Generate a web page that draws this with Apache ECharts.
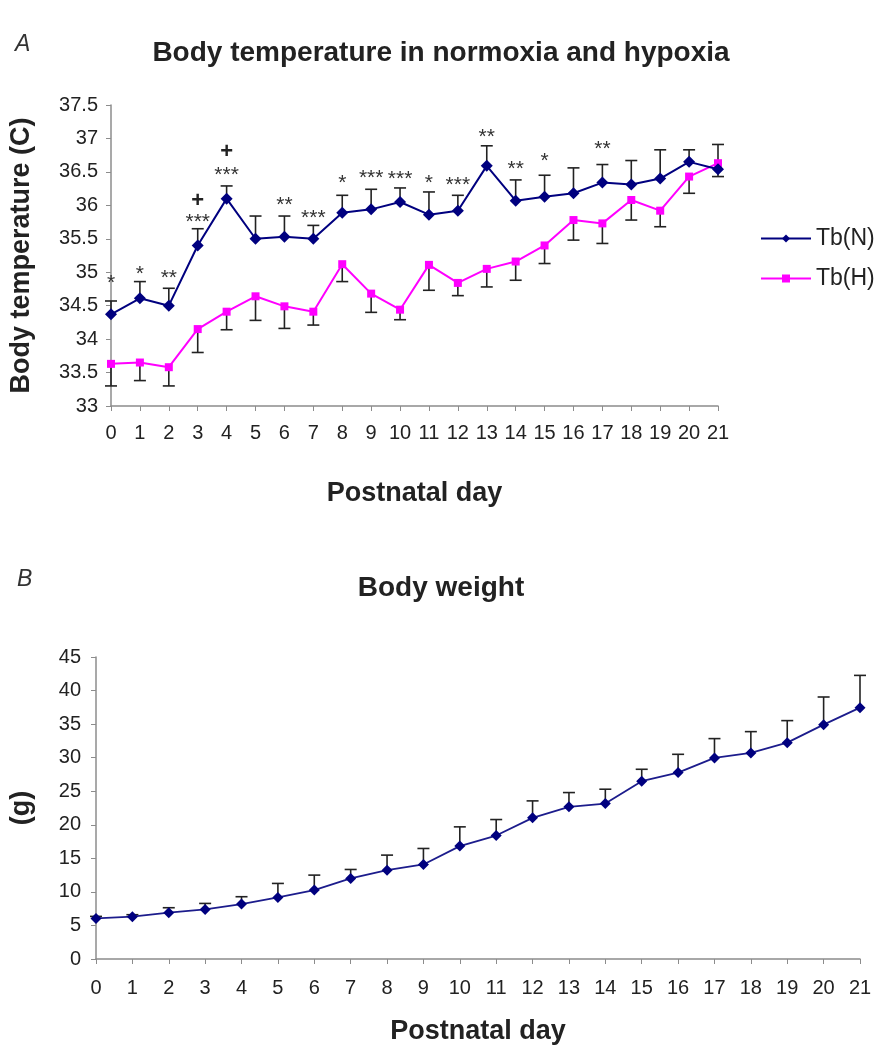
<!DOCTYPE html>
<html>
<head>
<meta charset="utf-8">
<script src="https://cdn.jsdelivr.net/npm/echarts@6/dist/echarts.min.js"></script>
<style>
  html, body { margin: 0; padding: 0; background: #fff; }
  #main { width: 882px; height: 1048px; }
</style>
</head>
<body>
<div id="main"></div>
<script>
// postnatal days 0..21
const days = ['0','1','2','3','4','5','6','7','8','9','10','11','12','13','14','15','16','17','18','19','20','21'];

// body temperature, normoxia (mean, error up)
const tbN = [34.37, 34.61, 34.50, 35.40, 36.10, 35.50, 35.53, 35.50, 35.89, 35.94, 36.05, 35.86, 35.92, 36.59, 36.07, 36.13, 36.18, 36.34, 36.31, 36.40, 36.65, 36.54];
const tbNErr = [0.20, 0.25, 0.26, 0.25, 0.19, 0.34, 0.31, 0.20, 0.26, 0.30, 0.21, 0.34, 0.23, 0.30, 0.31, 0.32, 0.38, 0.27, 0.36, 0.43, 0.18, 0.37];

// body temperature, hypoxia (mean, error down)
const tbH = [33.63, 33.65, 33.58, 34.15, 34.41, 34.64, 34.49, 34.41, 35.12, 34.68, 34.44, 35.11, 34.84, 35.05, 35.16, 35.40, 35.78, 35.73, 36.08, 35.92, 36.43, 36.63];
const tbHErr = [0.33, 0.27, 0.28, 0.35, 0.27, 0.36, 0.33, 0.20, 0.26, 0.28, 0.15, 0.38, 0.19, 0.27, 0.28, 0.27, 0.30, 0.30, 0.30, 0.24, 0.25, 0.20];

// significance marks and where they sit (temperature units)
const sigStars = ['*', '*', '**', '***', '***', '', '**', '***', '*', '***', '***', '*', '***', '**', '**', '*', '', '**', '', '', '', ''];
const sigY = [34.91, 35.04, 34.98, 35.82, 36.52, null, 36.08, 35.88, 36.40, 36.48, 36.46, 36.40, 36.38, 37.10, 36.62, 36.73, null, 36.91, null, null, null, null];
const plusDays = [3, 4];
const plusY = [36.06, 36.80];

// body weight (g)
const weight = [6.05, 6.3, 6.9, 7.39, 8.18, 9.18, 10.27, 12.0, 13.24, 14.09, 16.82, 18.4, 21.03, 22.67, 23.16, 26.49, 27.78, 29.96, 30.7, 32.24, 34.92, 37.45];
const weightErr = [0.3, 0.3, 0.74, 0.89, 1.1, 2.08, 2.23, 1.34, 2.24, 2.38, 2.87, 2.38, 2.53, 2.13, 2.14, 1.78, 2.72, 2.88, 3.18, 3.28, 4.12, 4.81];

const FONT = 'Liberation Sans, Arial, sans-serif';
const NAVY = '#00007f';
const MAGENTA = '#ff00ff';
const AXIS = '#8c8c8c';

// error bar renderer: data = [x, from, to]
function errBar(params, api) {
  const a = api.coord([api.value(0), api.value(1)]);
  const b = api.coord([api.value(0), api.value(2)]);
  const w = 6;
  const st = { stroke: '#222', lineWidth: 1.6 };
  return {
    type: 'group',
    children: [
      { type: 'line', shape: { x1: a[0], y1: a[1], x2: b[0], y2: b[1] }, style: st },
      { type: 'line', shape: { x1: b[0] - w, y1: b[1], x2: b[0] + w, y2: b[1] }, style: st }
    ]
  };
}

const chartDom = document.getElementById('main');
const myChart = echarts.init(chartDom);

const xAxisCommon = {
  type: 'category',
  data: days,
  boundaryGap: false,
  axisLine: { lineStyle: { color: AXIS, width: 1.5 } },
  axisTick: { length: 5, lineStyle: { color: AXIS } },
  axisLabel: { color: '#222', fontSize: 20, fontFamily: FONT, interval: 0 },
  nameLocation: 'middle',
  nameTextStyle: { color: '#222', fontSize: 27, fontWeight: 'bold', fontFamily: FONT }
};
const yAxisCommon = {
  type: 'value',
  splitLine: { show: false },
  axisLine: { show: true, lineStyle: { color: AXIS, width: 1.5 } },
  axisTick: { show: true, length: 5, lineStyle: { color: AXIS } },
  axisLabel: { color: '#222', fontSize: 20, fontFamily: FONT },
  nameLocation: 'middle',
  nameTextStyle: { color: '#222', fontSize: 27, fontWeight: 'bold', fontFamily: FONT }
};

const option = {
  backgroundColor: '#fff',
  animation: false,
  title: [
    { text: 'A', left: 10, top: 28, textStyle: { fontStyle: 'italic', fontWeight: 'normal', fontSize: 23, color: '#333', fontFamily: FONT } },
    { text: 'Body temperature in normoxia and hypoxia', left: 'center', top: 34, textStyle: { fontSize: 28, fontWeight: 'bold', color: '#222', fontFamily: FONT } },
    { text: 'B', left: 12, top: 563, textStyle: { fontStyle: 'italic', fontWeight: 'normal', fontSize: 23, color: '#333', fontFamily: FONT } },
    { text: 'Body weight', left: 'center', top: 569, textStyle: { fontSize: 28, fontWeight: 'bold', color: '#222', fontFamily: FONT } }
  ],
  legend: {
    data: ['Tb(N)', 'Tb(H)'],
    orient: 'vertical',
    left: 755,
    top: 222,
    itemWidth: 50,
    itemHeight: 10,
    itemGap: 17,
    textStyle: { fontSize: 23, color: '#222', fontFamily: FONT }
  },
  grid: [
    { left: 111, right: 164, top: 105, bottom: 642, outerBoundsMode: 'none' },
    { left: 96, right: 22, top: 657, bottom: 89, outerBoundsMode: 'none' }
  ],
  xAxis: [
    Object.assign({}, xAxisCommon, { gridIndex: 0, name: 'Postnatal day', nameGap: 74, axisLabel: Object.assign({}, xAxisCommon.axisLabel, { margin: 17 }) }),
    Object.assign({}, xAxisCommon, { gridIndex: 1, name: 'Postnatal day', nameGap: 59, axisLabel: Object.assign({}, xAxisCommon.axisLabel, { margin: 19 }) })
  ],
  yAxis: [
    Object.assign({}, yAxisCommon, { gridIndex: 0, min: 33, max: 37.5, interval: 0.5, name: 'Body temperature (C)', nameGap: 76, axisLabel: Object.assign({}, yAxisCommon.axisLabel, { margin: 13 }) }),
    Object.assign({}, yAxisCommon, { gridIndex: 1, min: 0, max: 45, interval: 5, name: '(g)', nameGap: 61, axisLabel: Object.assign({}, yAxisCommon.axisLabel, { margin: 15 }) })
  ],
  series: [
    {
      type: 'custom', name: 'errN', xAxisIndex: 0, yAxisIndex: 0, z: 1,
      renderItem: errBar,
      data: tbN.map((v, i) => [i, v, v + tbNErr[i]])
    },
    {
      type: 'custom', name: 'errH', xAxisIndex: 0, yAxisIndex: 0, z: 1,
      renderItem: errBar,
      data: tbH.map((v, i) => [i, v, v - tbHErr[i]])
    },
    {
      name: 'Tb(N)', type: 'line', xAxisIndex: 0, yAxisIndex: 0, z: 3,
      data: tbN,
      symbol: 'diamond', symbolSize: 12,
      lineStyle: { color: NAVY, width: 2 },
      itemStyle: { color: NAVY }
    },
    {
      name: 'Tb(H)', type: 'line', xAxisIndex: 0, yAxisIndex: 0, z: 2,
      data: tbH,
      symbol: 'rect', symbolSize: 8,
      lineStyle: { color: MAGENTA, width: 2 },
      itemStyle: { color: MAGENTA }
    },
    {
      type: 'custom', name: 'sig', xAxisIndex: 0, yAxisIndex: 0, z: 4,
      data: sigY.map((y, i) => [i, y]).filter(d => d[1] !== null),
      renderItem: function (params, api) {
        const p = api.coord([api.value(0), api.value(1)]);
        return {
          type: 'text',
          x: p[0], y: p[1] + 5,
          style: { text: sigStars[api.value(0)], fill: '#333', font: '21px ' + FONT, textAlign: 'center', textVerticalAlign: 'middle' }
        };
      }
    },
    {
      type: 'custom', name: 'plus', xAxisIndex: 0, yAxisIndex: 0, z: 4,
      data: plusDays.map((d, i) => [d, plusY[i]]),
      renderItem: function (params, api) {
        const p = api.coord([api.value(0), api.value(1)]);
        return {
          type: 'text',
          x: p[0], y: p[1],
          style: { text: '+', fill: '#222', font: 'bold 22px ' + FONT, textAlign: 'center', textVerticalAlign: 'middle' }
        };
      }
    },
    {
      type: 'custom', name: 'errW', xAxisIndex: 1, yAxisIndex: 1, z: 1,
      renderItem: errBar,
      data: weight.map((v, i) => [i, v, v + weightErr[i]])
    },
    {
      name: 'Weight', type: 'line', xAxisIndex: 1, yAxisIndex: 1, z: 3,
      data: weight,
      symbol: 'diamond', symbolSize: 11,
      lineStyle: { color: '#1c1c8c', width: 1.8 },
      itemStyle: { color: NAVY }
    }
  ]
};

option && myChart.setOption(option);
</script>
</body>
</html>
